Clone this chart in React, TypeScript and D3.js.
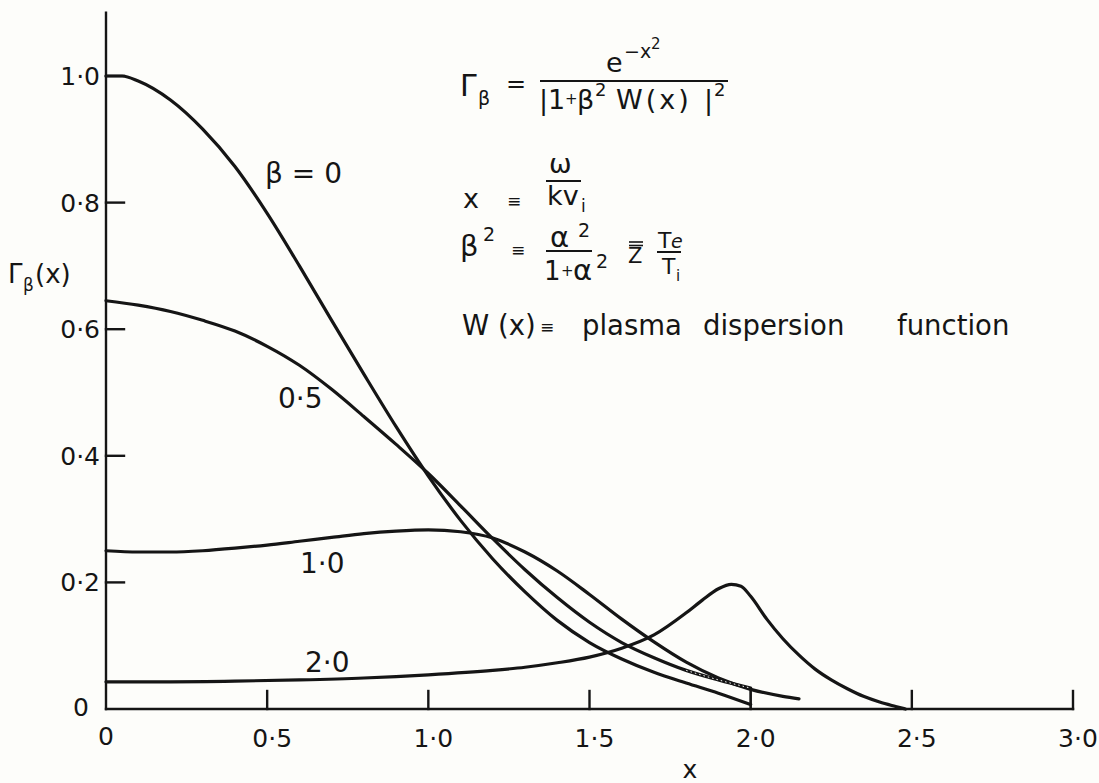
import React from "react";
import * as d3 from "d3";

const WIDTH = 1099;
const HEIGHT = 783;

// Axis ticks
const xTickValues = [0.5, 1.0, 1.5, 2.0, 2.5, 3.0];
const xTickLabels = ["0·5", "1·0", "1·5", "2·0", "2·5", "3·0"];
const yTickValues = [0.2, 0.4, 0.6, 0.8, 1.0];
const yTickLabels = ["0·2", "0·4", "0·6", "0·8", "1·0"];

// Γβ(x) sampled along x for each β
const xBeta0 = [0, 0.05, 0.1, 0.2, 0.3, 0.4, 0.5, 0.6, 0.7, 0.8, 0.9, 1.0, 1.1, 1.2, 1.3, 1.4, 1.5, 1.6, 1.7, 1.8, 1.9, 2.0];
const gBeta0 = [1.0, 1.0, 0.992, 0.962, 0.916, 0.857, 0.783, 0.7, 0.614, 0.529, 0.446, 0.368, 0.298, 0.237, 0.185, 0.14, 0.105, 0.079, 0.058, 0.041, 0.025, 0.007];

const xBeta05 = [0, 0.1, 0.2, 0.3, 0.4, 0.5, 0.6, 0.7, 0.8, 0.9, 1.0, 1.1, 1.2, 1.3, 1.4, 1.5, 1.6, 1.7, 1.8, 1.9, 2.0];
const gBeta05 = [0.645, 0.638, 0.628, 0.614, 0.597, 0.573, 0.543, 0.505, 0.462, 0.418, 0.372, 0.321, 0.269, 0.22, 0.176, 0.137, 0.105, 0.081, 0.061, 0.046, 0.033];

const xBeta1 = [0, 0.1, 0.2, 0.3, 0.4, 0.5, 0.6, 0.7, 0.8, 0.9, 1.0, 1.1, 1.2, 1.3, 1.4, 1.5, 1.6, 1.7, 1.8, 1.9, 2.0, 2.1, 2.15];
const gBeta1 = [0.25, 0.248, 0.248, 0.25, 0.254, 0.259, 0.265, 0.271, 0.277, 0.281, 0.283, 0.28, 0.27, 0.248, 0.218, 0.181, 0.142, 0.106, 0.074, 0.049, 0.031, 0.02, 0.016];

const xBeta2 = [0, 0.2, 0.4, 0.6, 0.8, 1.0, 1.2, 1.3, 1.4, 1.5, 1.6, 1.7, 1.8, 1.85, 1.9, 1.94, 1.97, 2.0, 2.05, 2.1, 2.15, 2.2, 2.25, 2.3, 2.35, 2.4, 2.45, 2.48];
const gBeta2 = [0.043, 0.043, 0.044, 0.046, 0.049, 0.054, 0.061, 0.066, 0.073, 0.082, 0.096, 0.117, 0.152, 0.172, 0.19, 0.197, 0.194, 0.178, 0.142, 0.111, 0.085, 0.063, 0.046, 0.032, 0.02, 0.011, 0.004, 0];

const curveLabels = ["β = 0", "0·5", "1·0", "2·0"];

type Pt = [number, number];
const zip = (xs: number[], ys: number[]): Pt[] => xs.map((x, i) => [x, ys[i]]);

const series: Pt[][] = [
  zip(xBeta0, gBeta0),
  zip(xBeta05, gBeta05),
  zip(xBeta1, gBeta1),
  zip(xBeta2, gBeta2),
];

const FONT = "'DejaVu Sans', sans-serif";
const INK = "#151515";
const PAPER = "#fdfdfa";

export default function App() {
  const x = d3.scaleLinear().domain([0, 3]).range([106, 1073]);
  const y = d3.scaleLinear().domain([0, 1]).range([709, 76]);

  const line = d3
    .line<Pt>()
    .x((d) => x(d[0]))
    .y((d) => y(d[1]))
    .curve(d3.curveMonotoneX);

  const labelPos: [number, number][] = [
    [265, 183],
    [278, 408],
    [300, 573],
    [305, 672],
  ];

  const endB05 = gBeta05[gBeta05.length - 1];
  const endX05 = xBeta05[xBeta05.length - 1];
  // the pen stroke of the β = 0.5 curve doubles up over its last stretch
  const tail05 = series[1].filter((d) => d[0] >= 1.8);

  const t = (props: any) => ({ fontFamily: FONT, fill: INK, ...props });

  return (
    <svg
      width={WIDTH}
      height={HEIGHT}
      style={{ position: "absolute", left: 0, top: 0, background: PAPER }}
    >
      {/* axes */}
      <g stroke={INK} strokeWidth={2.4} fill="none" strokeLinecap="square">
        <line x1={x(0)} x2={x(3)} y1={y(0)} y2={y(0)} />
        <line x1={x(0)} x2={x(0)} y1={y(0)} y2={y(1.1)} />
        {xTickValues.map((v) => (
          <line key={"xt" + v} x1={x(v)} x2={x(v)} y1={y(0)} y2={y(0) - 18} />
        ))}
        {yTickValues.map((v) => (
          <line key={"yt" + v} x1={x(0)} x2={x(0) + 18} y1={y(v)} y2={y(v)} />
        ))}
      </g>

      {/* tick labels */}
      {xTickValues.map((v, i) => (
        <text key={"xl" + v} {...t({ x: x(v) + 5, y: y(0) + 38, fontSize: 25, textAnchor: "middle" })}>
          {xTickLabels[i]}
        </text>
      ))}
      {yTickValues.map((v, i) => (
        <text key={"yl" + v} {...t({ x: x(0) - 6, y: y(v) + 9, fontSize: 25, textAnchor: "end" })}>
          {yTickLabels[i]}
        </text>
      ))}
      <text {...t({ x: x(0) - 17, y: y(0) + 7, fontSize: 25, textAnchor: "end" })}>0</text>
      <text {...t({ x: x(0), y: y(0) + 36, fontSize: 25, textAnchor: "middle" })}>0</text>

      {/* axis titles */}
      <text {...t({ x: 690, y: 778, fontSize: 25, textAnchor: "middle" })}>x</text>
      <text {...t({ x: 8, y: 283, fontSize: 26 })}>Γ</text>
      <text {...t({ x: 23, y: 291, fontSize: 17 })}>β</text>
      <text {...t({ x: 35, y: 283, fontSize: 26 })}>(x)</text>

      {/* curves */}
      <g fill="none" stroke={INK} strokeWidth={3.2} strokeLinejoin="round" strokeLinecap="round">
        {series.map((s, i) => (
          <path key={"c" + i} d={line(s) || ""} />
        ))}
        <line x1={x(endX05)} x2={x(endX05)} y1={y(0)} y2={y(endB05)} strokeWidth={2} />
      </g>
      <path
        d={line(tail05) || ""}
        fill="none"
        stroke={PAPER}
        strokeWidth={1}
        strokeDasharray="1.5 3"
      />

      {/* curve labels */}
      {curveLabels.map((lab, i) => (
        <text key={"cl" + i} {...t({ x: labelPos[i][0], y: labelPos[i][1], fontSize: 28 })}>
          {lab}
        </text>
      ))}

      {/* Γβ = e^{-x²} / |1 + β² W(x)|² */}
      <g>
        <text {...t({ x: 460, y: 96, fontSize: 30 })}>Γ</text>
        <text {...t({ x: 478, y: 105, fontSize: 19 })}>β</text>
        <text {...t({ x: 506, y: 92, fontSize: 24 })}>=</text>
        <text {...t({ x: 606, y: 72, fontSize: 27 })}>e</text>
        <text {...t({ x: 624, y: 58, fontSize: 19 })}>−x</text>
        <text {...t({ x: 651, y: 49, fontSize: 15 })}>2</text>
        <line x1={540} x2={728} y1={81} y2={81} stroke={INK} strokeWidth={2} />
        <text {...t({ x: 539, y: 109, fontSize: 27 })}>|1</text>
        <text {...t({ x: 565, y: 104, fontSize: 15 })}>+</text>
        <text {...t({ x: 577, y: 109, fontSize: 27 })}>β</text>
        <text {...t({ x: 595, y: 96, fontSize: 18 })}>2</text>
        <text {...t({ x: 616, y: 109, fontSize: 27, letterSpacing: 3 })}>W(x)</text>
        <text {...t({ x: 704, y: 109, fontSize: 27 })}>|</text>
        <text {...t({ x: 714, y: 96, fontSize: 18 })}>2</text>
      </g>

      {/* x ≡ ω / k v_i */}
      <g>
        <text {...t({ x: 463, y: 208, fontSize: 27 })}>x</text>
        <text {...t({ x: 507, y: 207, fontSize: 17 })}>≡</text>
        <text {...t({ x: 549, y: 173, fontSize: 27 })}>ω</text>
        <line x1={546} x2={581} y1={181} y2={181} stroke={INK} strokeWidth={2} />
        <text {...t({ x: 547, y: 205, fontSize: 27 })}>kv</text>
        <text {...t({ x: 581, y: 212, fontSize: 17 })}>i</text>
      </g>

      {/* β² ≡ α²/(1+α²) Z̿ Te/Ti */}
      <g>
        <text {...t({ x: 460, y: 256, fontSize: 29 })}>β</text>
        <text {...t({ x: 483, y: 241, fontSize: 19 })}>2</text>
        <text {...t({ x: 511, y: 256, fontSize: 17 })}>≡</text>
        <text {...t({ x: 550, y: 247, fontSize: 29 })}>α</text>
        <text {...t({ x: 578, y: 237, fontSize: 19 })}>2</text>
        <line x1={546} x2={592} y1={251} y2={251} stroke={INK} strokeWidth={2} />
        <text {...t({ x: 544, y: 280, fontSize: 26 })}>1</text>
        <text {...t({ x: 561, y: 276, fontSize: 15 })}>+</text>
        <text {...t({ x: 573, y: 280, fontSize: 29 })}>α</text>
        <text {...t({ x: 596, y: 268, fontSize: 19 })}>2</text>
        <text {...t({ x: 628, y: 263, fontSize: 21 })}>Z</text>
        <line x1={629} x2={643} y1={242} y2={242} stroke={INK} strokeWidth={1.6} />
        <line x1={629} x2={643} y1={245.5} y2={245.5} stroke={INK} strokeWidth={1.6} />
        <text {...t({ x: 658, y: 248, fontSize: 22 })}>T</text>
        <text {...t({ x: 671, y: 248, fontSize: 19, fontStyle: "italic" })}>e</text>
        <line x1={657} x2={681} y1={252} y2={252} stroke={INK} strokeWidth={2} />
        <text {...t({ x: 662, y: 274, fontSize: 22 })}>T</text>
        <text {...t({ x: 676, y: 281, fontSize: 15 })}>i</text>
      </g>

      {/* W(x) definition */}
      <g>
        <text {...t({ x: 462, y: 335, fontSize: 27.5 })}>W (x)</text>
        <text {...t({ x: 540, y: 333, fontSize: 17 })}>≡</text>
        <text {...t({ x: 582, y: 335, fontSize: 27.5 })}>plasma</text>
        <text {...t({ x: 703, y: 335, fontSize: 27.5 })}>dispersion</text>
        <text {...t({ x: 897, y: 335, fontSize: 27.5 })}>function</text>
      </g>
    </svg>
  );
}
